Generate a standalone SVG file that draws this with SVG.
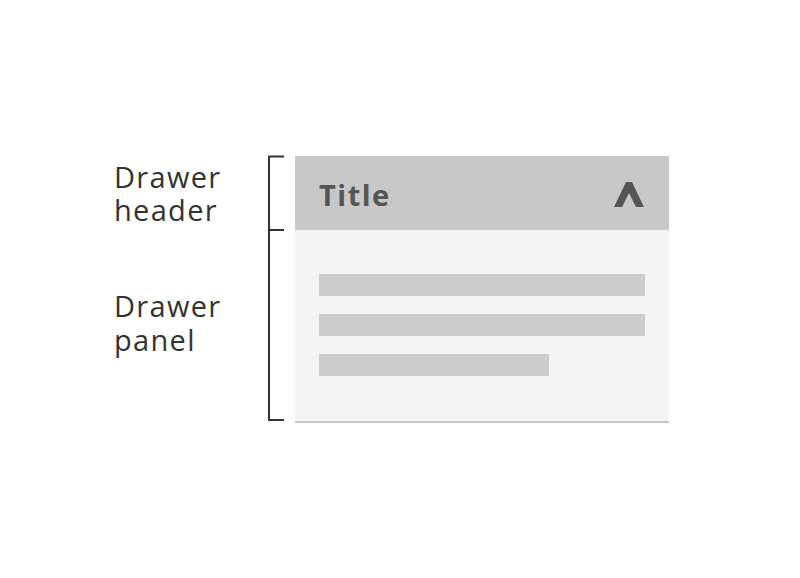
<svg xmlns="http://www.w3.org/2000/svg" width="800" height="578" viewBox="0 0 800 578">
<style>
.lbl{font-family:"Open Sans","Liberation Sans",sans-serif;font-size:29px;fill:#333;letter-spacing:1.3px}
.bar{fill:#cccccc}
</style>
<rect width="800" height="578" fill="#fff"/>
<g id="labels">
<text class="lbl" x="114" y="188">Drawer<tspan x="114" dy="33">header</tspan></text>
<text class="lbl" x="114" y="317">Drawer<tspan x="114" dy="34">panel</tspan></text>
</g>
<g id="connectors" fill="none" stroke="#333" stroke-width="2">
<polyline points="284,156.5 269,156.5 269,420 284,420"/>
<line x1="269" y1="230" x2="284" y2="230"/>
</g>
<g id="drawer-header">
<rect x="295" y="156" width="374" height="74" fill="#c8c8c8"/>
<text x="319" y="206" font-family="Open Sans,Liberation Sans,sans-serif" font-size="29" font-weight="bold" fill="#555" letter-spacing="1.5">Title</text>
<polygon points="614,207 626,182 632,182 644,207 636,207 629,193 622,207" fill="#555"/>
</g>
<g id="drawer-panel">
<rect x="295" y="230" width="374" height="191" fill="#f4f4f4"/>
<rect x="295" y="421" width="374" height="2" fill="#c6c6c6"/>
<rect class="bar" x="319" y="274" width="326" height="22"/>
<rect class="bar" x="319" y="314" width="326" height="22"/>
<rect class="bar" x="319" y="354" width="230" height="22"/>
</g>
</svg>
